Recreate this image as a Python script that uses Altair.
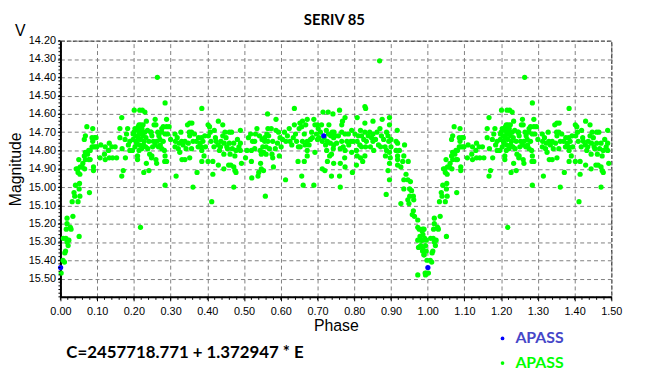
import altair as alt
import pandas as pd

# ---- data (phase, V magnitude); phases < 0.5 are repeated at phase + 1 ----
egress = [(0.002,15.47),(0.007,15.40),(0.011,15.41),(0.012,15.36),(0.014,15.35),(0.021,15.32),(0.018,15.30),
          (0.023,15.29),(0.008,15.28),(0.015,15.28),(0.051,15.27),(0.018,15.20),(0.016,15.23),(0.027,15.22),
          (0.029,15.23),(0.018,15.17),(0.034,15.16),(0.032,15.08),(0.039,15.05),(0.037,15.03),(0.048,15.08),
          (0.053,15.05),(0.051,15.01),(0.079,15.03),(0.041,14.99),(0.052,14.98),(0.048,14.92),(0.053,14.93),
          (0.043,14.90),(0.047,14.90),(0.054,14.89),(0.050,14.85),(0.059,14.89),(0.066,14.90),(0.090,14.91),
          (0.090,14.89),(0.061,14.87),(0.068,14.85),(0.077,14.85),(0.081,14.85),(0.065,14.83),(0.068,14.81),
          (0.074,14.82),(0.077,14.80),(0.081,14.80),(0.086,14.78),(0.090,14.78),(0.095,14.78),(0.099,14.78),
          (0.088,14.75),(0.086,14.73),(0.093,14.73),(0.097,14.73),(0.065,14.74),(0.068,14.72),(0.072,14.67),
          (0.088,14.68)]
rise_max1 = [(0.110,14.77),(0.108,14.84),(0.122,14.78),(0.133,14.76),(0.120,14.82),(0.131,14.80),(0.122,14.85),
             (0.133,14.84),(0.142,14.84),(0.153,14.84),(0.149,14.78),(0.140,14.78),(0.167,14.62),(0.162,14.68),
             (0.162,14.73),(0.171,14.91),(0.167,14.94),(0.177,14.84),(0.168,14.79),(0.176,14.74),(0.183,14.68),
             (0.189,14.75),(0.189,14.80),(0.198,14.71),(0.201,14.58),(0.216,14.58),(0.223,14.58),(0.230,14.59),
             (0.234,14.64),(0.214,14.66),(0.225,14.66),(0.203,14.68),(0.210,14.83),(0.210,14.85),(0.196,14.80),
             (0.214,14.80),(0.227,14.92),(0.234,14.87),(0.241,14.91),(0.243,14.82),(0.248,14.84),(0.246,14.70),
             (0.241,14.75),(0.218,15.22),(0.200,14.70),(0.205,14.72),(0.210,14.69),(0.212,14.73),(0.215,14.71),
             (0.218,14.74),(0.220,14.70),(0.222,14.68),(0.225,14.72),(0.228,14.75),(0.230,14.70),(0.233,14.73),
             (0.208,14.76),(0.215,14.77),(0.226,14.77),(0.198,14.74),(0.203,14.78),(0.219,14.66),(0.212,14.67),
             (0.237,14.69),(0.232,14.78),(0.238,14.79),(0.206,14.75),(0.221,14.79),(0.180,14.71),(0.185,14.77)]
plateau1 = [(0.264,14.40),(0.285,14.54),(0.385,14.57),(0.258,14.63),(0.255,14.66),(0.260,14.66),(0.247,14.70),
            (0.249,14.72),(0.253,14.75),(0.258,14.77),(0.251,14.78),(0.262,14.75),(0.265,14.70),(0.276,14.68),
            (0.280,14.67),(0.289,14.67),(0.296,14.67),(0.289,14.63),(0.276,14.70),(0.285,14.71),(0.271,14.74),
            (0.280,14.75),(0.267,14.78),(0.276,14.79),(0.283,14.80),(0.285,14.83),(0.289,14.86),(0.284,14.86),
            (0.260,14.85),(0.249,14.83),(0.262,14.87),(0.285,14.99),(0.315,14.94),(0.312,14.71),(0.313,14.75),
            (0.312,14.78),(0.321,14.79),(0.323,14.76),(0.330,14.75),(0.328,14.70),(0.334,14.77),(0.339,14.75),
            (0.331,14.85),(0.339,14.85),(0.352,14.84),(0.346,14.66),(0.352,14.65),(0.358,14.65),(0.351,14.70),
            (0.357,14.70),(0.352,14.72),(0.361,14.75),(0.348,14.76),(0.357,14.79),(0.361,15.00),(0.370,14.75),
            (0.376,14.73),(0.384,14.73),(0.375,14.78),(0.384,14.78),(0.388,14.75),(0.385,14.80),(0.391,14.83),
            (0.385,14.86),(0.372,14.92),(0.393,14.72),(0.402,14.66),(0.406,14.67),(0.403,14.72),(0.402,14.86),
            (0.415,14.86),(0.415,14.93),(0.412,15.08),(0.419,14.69),(0.430,14.64),(0.442,14.66),(0.410,14.75),
            (0.418,14.78),(0.424,14.75),(0.429,14.77),(0.433,14.80),(0.437,14.75),(0.442,14.72),(0.446,14.76),
            (0.445,14.82),(0.430,14.88),(0.445,14.90),(0.455,14.79),(0.460,14.70),(0.466,14.70),(0.460,14.76),
            (0.472,14.76),(0.462,14.82),(0.464,14.88),(0.472,14.89),(0.475,14.91),(0.478,14.92),(0.475,14.83),
            (0.478,14.80),(0.472,15.00),(0.490,14.69),(0.490,14.76),(0.490,14.80),(0.493,14.87),(0.458,14.88),
            (0.453,14.78),(0.451,14.73),(0.268,14.72),(0.272,14.77),(0.292,14.71),(0.300,14.74),(0.318,14.73),
            (0.325,14.81),(0.342,14.79),(0.365,14.71),(0.380,14.76),(0.395,14.78),(0.408,14.70),(0.422,14.73),
            (0.436,14.78),(0.448,14.70),(0.468,14.79),(0.482,14.74),(0.486,14.78)]
plateau2 = [(0.637,14.57),(0.564,14.60),(0.587,14.63),(0.518,14.71),(0.535,14.68),(0.531,14.71),(0.542,14.72),
            (0.549,14.74),(0.556,14.73),(0.565,14.68),(0.574,14.68),(0.562,14.71),(0.567,14.72),(0.523,14.75),
            (0.529,14.75),(0.556,14.75),(0.565,14.75),(0.578,14.75),(0.551,14.78),(0.560,14.78),(0.569,14.79),
            (0.529,14.79),(0.520,14.80),(0.508,14.80),(0.544,14.80),(0.553,14.81),(0.547,14.82),(0.560,14.82),
            (0.576,14.82),(0.578,14.84),(0.596,14.83),(0.504,14.84),(0.520,14.86),(0.545,14.87),(0.547,14.90),
            (0.540,14.92),(0.553,14.91),(0.538,14.94),(0.521,14.95),(0.580,14.89),(0.558,15.05),(0.587,14.69),
            (0.594,14.70),(0.598,14.73),(0.591,14.76),(0.601,14.78),(0.610,14.70),(0.614,14.75),(0.623,14.68),
            (0.625,14.75),(0.634,14.73),(0.637,14.66),(0.643,14.75),(0.648,14.78),(0.652,14.65),(0.657,14.67),
            (0.650,14.68),(0.659,14.64),(0.672,14.63),(0.668,14.66),(0.664,14.71),(0.659,14.75),(0.672,14.75),
            (0.677,14.77),(0.666,14.77),(0.653,14.78),(0.681,14.74),(0.686,14.73),(0.672,14.80),(0.693,14.81),
            (0.672,14.83),(0.647,14.86),(0.664,14.86),(0.657,14.94),(0.613,14.96),(0.661,14.99),(0.690,14.99),
            (0.690,14.63),(0.693,14.66),(0.700,14.66),(0.702,14.68),(0.715,14.59),(0.729,14.59),(0.742,14.60),
            (0.711,14.66),(0.724,14.69),(0.731,14.66),(0.736,14.72),(0.727,14.75),(0.713,14.75),(0.704,14.73),
            (0.744,14.73),(0.744,14.77),(0.725,14.80),(0.738,14.82),(0.733,14.83),(0.727,14.86),(0.744,14.87),
            (0.713,14.90),(0.720,14.91),(0.738,14.94),(0.697,14.71),(0.684,14.70),(0.605,14.74),(0.618,14.72),
            (0.630,14.77),(0.640,14.71),(0.700,14.74),(0.708,14.70),(0.718,14.73),(0.722,14.77),(0.730,14.71),
            (0.735,14.76),(0.740,14.70),(0.512,14.73),(0.585,14.79)]
plateau3 = [(0.869,14.31),(0.829,14.56),(0.831,14.57),(0.760,14.58),(0.775,14.62),(0.768,14.64),(0.766,14.66),
            (0.808,14.62),(0.829,14.65),(0.851,14.64),(0.876,14.63),(0.896,14.62),(0.896,14.66),(0.917,14.69),
            (0.745,14.70),(0.748,14.72),(0.766,14.70),(0.775,14.71),(0.784,14.71),(0.793,14.69),(0.766,14.75),
            (0.780,14.75),(0.791,14.75),(0.797,14.75),(0.808,14.75),(0.817,14.69),(0.820,14.72),(0.811,14.72),
            (0.829,14.70),(0.838,14.72),(0.847,14.73),(0.851,14.71),(0.862,14.70),(0.874,14.72),(0.888,14.70),
            (0.892,14.72),(0.894,14.75),(0.900,14.74),(0.833,14.75),(0.851,14.75),(0.752,14.76),(0.770,14.78),
            (0.775,14.80),(0.762,14.79),(0.743,14.79),(0.793,14.81),(0.806,14.80),(0.820,14.78),(0.831,14.78),
            (0.844,14.78),(0.853,14.80),(0.872,14.78),(0.884,14.78),(0.888,14.80),(0.900,14.78),(0.896,14.81),
            (0.885,14.83),(0.898,14.84),(0.808,14.83),(0.817,14.84),(0.829,14.83),(0.823,14.86),(0.806,14.88),
            (0.774,14.84),(0.762,14.87),(0.775,14.89),(0.896,14.87),(0.892,14.91),(0.795,14.92),(0.760,14.94),
            (0.762,15.00),(0.896,14.96),(0.887,15.04),(0.802,14.71),(0.815,14.77),(0.826,14.74),(0.842,14.70),
            (0.858,14.74),(0.866,14.77),(0.880,14.74),(0.870,14.68),(0.785,14.77),(0.757,14.72)]
ingress = [(0.914,14.75),(0.918,14.76),(0.937,14.77),(0.914,14.80),(0.923,14.80),(0.918,14.83),(0.935,14.83),
           (0.918,14.85),(0.932,14.86),(0.947,14.86),(0.918,14.88),(0.927,14.89),(0.941,14.93),(0.935,14.96),
           (0.946,14.96),(0.953,14.97),(0.935,15.01),(0.951,15.01),(0.956,15.02),(0.951,15.05),(0.961,15.05),
           (0.962,15.07),(0.946,15.07),(0.949,15.09),(0.927,15.09),(0.961,15.13),(0.958,15.15),(0.964,15.16),
           (0.973,15.18),(0.973,15.22),(0.977,15.23),(0.986,15.23),(0.979,15.27),(0.973,15.29),(0.982,15.29),
           (0.975,15.33),(0.981,15.32),(0.986,15.35),(0.990,15.37),(0.973,15.48),(0.993,15.47),(0.985,15.24),
           (0.990,15.23),(0.987,15.26),(0.985,15.29),(0.992,15.28),(0.996,15.29),(0.994,15.32),(0.987,15.34),
           (0.996,15.35),(0.990,15.37),(0.998,15.40),(0.996,15.47),(0.994,15.48)]
blue_points = [(0.0005,15.44),(0.717,14.72)]

x_ticks = [0.0,0.1,0.2,0.3,0.4,0.5,0.6,0.7,0.8,0.9,1.0,1.1,1.2,1.3,1.4,1.5]
y_ticks = [14.2,14.3,14.4,14.5,14.6,14.7,14.8,14.9,15.0,15.1,15.2,15.3,15.4,15.5]
x_minor = [round(i * 0.02, 2) for i in range(76)]
y_minor = [round(14.2 + i * 0.02, 2) for i in range(71)]

GREEN = "#00ff00"
BLUE = "#0000ff"

def fold(points, series):
    rows = []
    for p, m in points:
        rows.append({"phase": p, "mag": m, "series": series})
        if p < 0.5:
            rows.append({"phase": p + 1.0, "mag": m, "series": series})
    return rows

green_df = pd.DataFrame(fold(egress + rise_max1 + plateau1 + plateau2 + plateau3 + ingress, "APASS V"))
blue_df = pd.DataFrame(fold(blue_points, "APASS"))

W, H = 557, 259
x_scale = alt.Scale(domain=[0, 1.5], nice=False, zero=False)
y_scale = alt.Scale(domain=[14.2, 15.6], reverse=True, nice=False, zero=False)
x_axis = alt.Axis(values=x_ticks, format=".2f", title="Phase", grid=True,
                  gridDash=[4, 3], gridColor="#808080", gridWidth=1,
                  domainColor="black", domainWidth=2, tickColor="black", tickSize=4,
                  labelFont="Liberation Sans", labelFontSize=11, labelColor="black",
                  labelFlush=False, labelOverlap=False, labelPadding=5,
                  titleFont="Liberation Sans", titleFontSize=16, titleFontWeight="normal",
                  titleColor="black", titlePadding=1)
y_axis = alt.Axis(values=y_ticks, format=".2f", title="Magnitude", grid=True,
                  gridDash=[4, 3], gridColor="#808080", gridWidth=1,
                  domainColor="black", domainWidth=2, tickColor="black", tickSize=3,
                  labelFont="Liberation Sans", labelFontSize=11, labelColor="black",
                  labelFlush=False, labelOverlap=False, labelPadding=2,
                  titleFont="Liberation Sans", titleFontSize=16, titleFontWeight="normal",
                  titleColor="black", titlePadding=5)
x_enc = alt.X("phase:Q", scale=x_scale, axis=x_axis)
y_enc = alt.Y("mag:Q", scale=y_scale, axis=y_axis)

green_layer = alt.Chart(green_df).mark_circle(size=28, opacity=1, color=GREEN).encode(x=x_enc, y=y_enc)
blue_layer = alt.Chart(blue_df).mark_circle(size=28, opacity=1, color=BLUE).encode(x=x_enc, y=y_enc)

xminor_layer = alt.Chart(pd.DataFrame({"phase": x_minor})).mark_rule(color="black", strokeWidth=1).encode(
    x=x_enc, y=alt.value(H), y2=alt.value(H + 3))
yminor_layer = alt.Chart(pd.DataFrame({"mag": y_minor})).mark_rule(color="black", strokeWidth=1).encode(
    y=y_enc, x=alt.value(-2), x2=alt.value(0))

def label(text, x, y, size, color, weight="normal", font="Liberation Sans", align="left"):
    return alt.Chart(pd.DataFrame({"t": [text]})).mark_text(
        align=align, baseline="middle", fontSize=size, font=font, fontWeight=weight, color=color
    ).encode(x=alt.value(x), y=alt.value(y), text="t:N")

title_layer = label("SERIV 85", 277, -21, 15, "black", "bold", "Lato", "center")
v_layer = label("V", -46, -10, 16, "black")
eq_layer = label("C=2457718.771 + 1.372947 * E", 6, 316, 17, "black", "bold", "Lato")
leg1_text = label("APASS", 460, 301, 16, "#4646c8", "bold", "Lato")
leg2_text = label("APASS", 460, 326, 16, GREEN, "bold", "Lato")
leg1_dot = alt.Chart(pd.DataFrame({"t": [0]})).mark_circle(size=14, opacity=1, color=BLUE).encode(
    x=alt.value(447), y=alt.value(301))
leg2_dot = alt.Chart(pd.DataFrame({"t": [0]})).mark_circle(size=14, opacity=1, color=GREEN).encode(
    x=alt.value(447), y=alt.value(326))

chart = alt.layer(
    green_layer, blue_layer, xminor_layer, yminor_layer,
    title_layer, v_layer, eq_layer, leg1_text, leg2_text, leg1_dot, leg2_dot
).properties(
    width=W, height=H,
    autosize=alt.AutoSizeParams(type="none"),
    padding={"left": 53, "top": 31, "right": 30, "bottom": 80},
    background="white",
).configure_view(
    stroke="black", strokeDash=[4, 2], strokeWidth=1
)

chart.save("out.html", embed_options={"renderer": "svg", "actions": False})
